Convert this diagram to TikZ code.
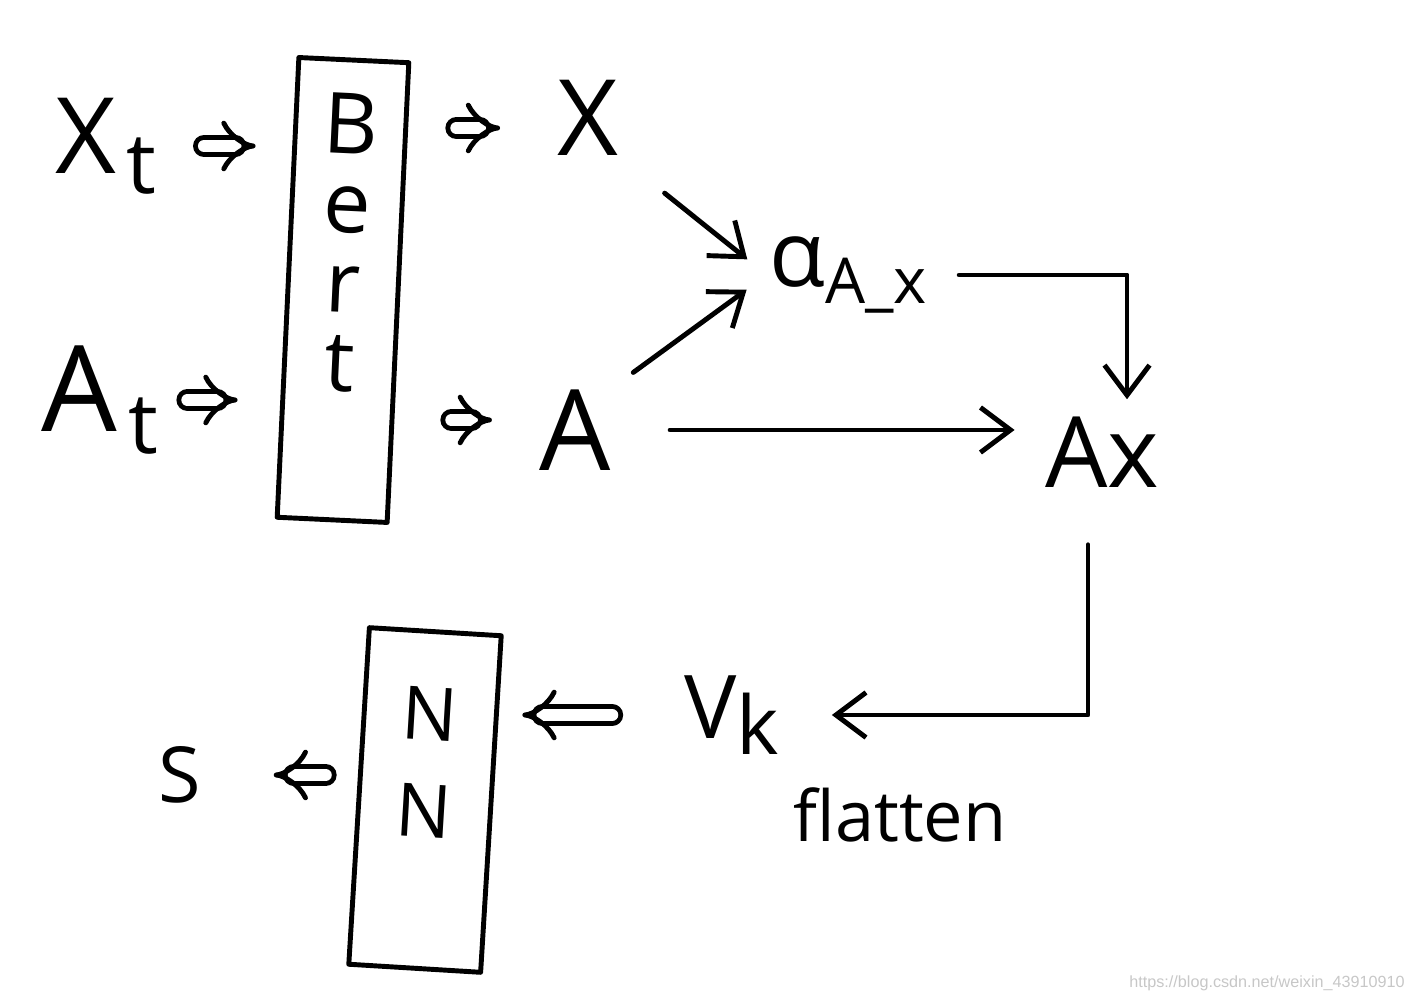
\documentclass[tikz,border=0pt]{standalone}
\usepackage{fontspec}
\setmainfont{Open Sans}
\newfontfamily\markfont{Liberation Sans}
\usetikzlibrary{arrows.meta}
\newcommand\fsz[1]{\fontsize{#1}{#1}\selectfont}
\newcommand\lowsub[2]{\raisebox{-0.35ex}{\fsz{#1}#2}}

\begin{document}
\begin{tikzpicture}[x=0.01cm, y=-0.01cm, line width=1.4pt, line cap=round, line join=round]
    \tikzstyle{lbl} = [inner sep=0pt, font=\fsz{30}]
    \tikzstyle{box} = [draw, rectangle, inner sep=0pt, align=center]
    \tikzstyle{dbl} = [double, double distance=3.5pt, -{Implies}]
    \tikzstyle{arrow} = [-{Straight Barb[length=0.3cm, width=0.45cm]}]

    \useasboundingbox (0,0) rectangle (1412,1001);

    % Inputs
    \node [lbl] (xt) at (106,146) {X\kern3pt\lowsub{24}{t}};
    \node [lbl, font=\fsz{34}] (at) at (100,400) {A\kern3pt\lowsub{24}{t}};

    % Bert
    \node [box, rotate=-2.7, minimum width=1.1cm, minimum height=4.6cm, font=\fontsize{24}{22.5}\selectfont] (bert) at (343,290) {B\\e\\r\\t\rule[-0.95cm]{0pt}{0pt}};

    % Bert outputs
    \node [lbl] (x) at (588,118) {X};
    \node [lbl, font=\fsz{32}] (a) at (575,430) {A};

    % Attention
    \node [lbl, font=\fsz{26}] (alpha) at (848,275) {α\lowsub{18}{A\_x}};
    \node [lbl, font=\fsz{28}] (ax) at (1102,452) {Ax};

    % Flatten
    \node [lbl, font=\fsz{25}] (vk) at (732,715) {V\lowsub{23}{k}};
    \node [lbl, font=\fsz{20}] (flatten) at (900,815) {flatten};

    % NN
    \node [box, rotate=-3.5, minimum width=1.32cm, minimum height=3.37cm, font=\fontsize{21}{27.5}\selectfont] (nn) at (425,800) {N\\N\rule[-0.75cm]{0pt}{0pt}};
    \node [lbl, font=\fsz{22}] (s) at (180,775) {S};

    % watermark
    \node [inner sep=0pt, font=\markfont\fsz{4.6}, text=black!22] (mark) at (1267,983) {https://blog.csdn.net/weixin\_43910910};

    % arrows
    \draw [dbl, shorten <=0.45cm, shorten >=0.3cm] (xt.east) -- (xt.east -| bert.west);
    \draw [dbl, shorten <=0.27cm, shorten >=0.48cm] (at.east) -- (at.east -| bert.west);
    \draw [dbl, shorten <=0.56cm, shorten >=0.55cm] ([yshift=-0.1cm]x.west -| bert.east) -- ([yshift=-0.1cm]x.west);
    \draw [dbl, shorten <=0.51cm, shorten >=0.45cm] ([yshift=0.1cm]a.west -| bert.east) -- ([yshift=0.1cm]a.west);
    \draw [arrow, shorten <=0.56cm, shorten >=0.25cm] (x.south east) -- (alpha.west);
    \draw [arrow, shorten <=0.25cm, shorten >=0.25cm] (a.north east) -- (alpha.west);
    \draw [arrow, shorten <=0.57cm, shorten >=0.28cm] (a.east) -- (a.east -| ax.west);
    \draw [arrow, shorten <=0.3cm, shorten >=0.15cm] (alpha.east) -| ([xshift=0.25cm]ax.north);
    \draw [arrow, shorten <=0.55cm, shorten >=0.5cm] ([xshift=-0.14cm]ax.south) |- (vk.east);
    \draw [dbl, shorten <=0.7cm, shorten >=0.29cm] (vk.west) -- (vk.west -| nn.east);
    \draw [dbl, shorten <=0.31cm, shorten >=0.7cm] (s.east -| nn.west) -- (s.east);

\end{tikzpicture}
\end{document}
